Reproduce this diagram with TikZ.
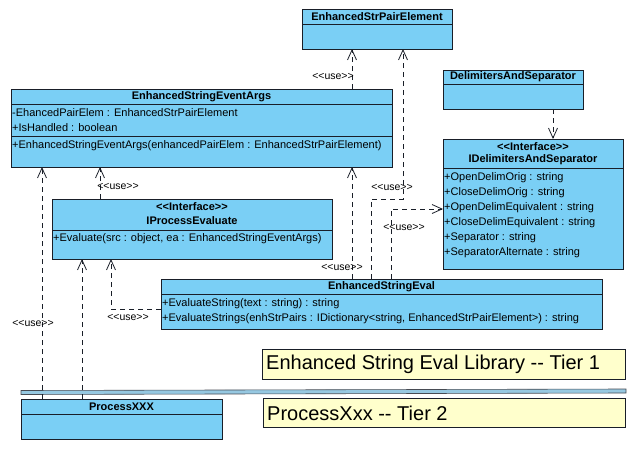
\documentclass[tikz,border=0pt]{standalone}
\usepackage{fontspec}
\setmainfont{Liberation Sans}[Ligatures=TeXOff]
\usetikzlibrary{arrows.meta,calc}
\definecolor{cls}{RGB}{122,207,245}
\definecolor{notefill}{RGB}{255,255,204}
\definecolor{edge}{RGB}{25,30,40}
\definecolor{barfill}{RGB}{150,200,225}
\begin{document}
\begin{tikzpicture}[x=1pt,y=-1pt,
  box/.style={draw=edge, fill=cls, line width=0.8pt, anchor=north west, inner sep=0pt, outer sep=0pt},
  notebox/.style={draw=edge, fill=notefill, line width=0.7pt, anchor=north west, inner sep=0pt, outer sep=0pt},
  sepline/.style={draw=edge, line width=0.8pt},
  ttl/.style={font=\fontsize{11}{12}\selectfont\bfseries, inner sep=0pt, anchor=center},
  mem/.style={font=\fontsize{11}{12}\selectfont, inner sep=0pt, anchor=west},
  uselbl/.style={font=\fontsize{10.5}{11}\selectfont, inner sep=0pt, anchor=center},
  bigtxt/.style={font=\fontsize{20}{22}\selectfont, inner sep=0pt, anchor=west},
  dep/.style={draw=edge, line width=0.8pt, dash pattern=on 5pt off 4pt, -{Straight Barb[length=10pt,width=9pt]}}
]
\useasboundingbox (0,0) rectangle (640,450);
\fill[white] (0,0) rectangle (640,450);

% ---- EnhancedStrPairElement
\node[box, minimum width=150pt, minimum height=40pt] (espe) at (302,9) {};
\draw[sepline] (302,24) -- (452,24);
\node[ttl] (espet) at (377,16.5) {EnhancedStrPairElement};

% ---- DelimitersAndSeparator
\node[box, minimum width=140pt, minimum height=39pt] (das) at (443,70) {};
\draw[sepline] (443,84) -- (583,84);
\node[ttl] (dast) at (513,77) {DelimitersAndSeparator};

% ---- EnhancedStringEventArgs
\node[box, minimum width=381pt, minimum height=78pt] (esea) at (11,89) {};
\draw[sepline] (11,104) -- (392,104);
\draw[sepline] (11,136) -- (392,136);
\node[ttl] (eseat) at (201.5,96.5) {EnhancedStringEventArgs};
\node[mem] (esea1) at (12,113) {-EhancedPairElem : EnhancedStrPairElement};
\node[mem] (esea2) at (12,128) {+IsHandled : boolean};
\node[mem] (esea3) at (12,146) {+EnhancedStringEventArgs(enhancedPairElem : EnhancedStrPairElement)};

% ---- IDelimitersAndSeparator
\node[box, minimum width=180pt, minimum height=130pt] (idel) at (443,139) {};
\draw[sepline] (443,168) -- (623,168);
\node[ttl] (idels) at (533,147) {<<Interface>>};
\node[ttl] (idelt) at (533,160) {IDelimitersAndSeparator};
\node[mem] (idel1) at (444,178) {+OpenDelimOrig : string};
\node[mem] (idel2) at (444,193) {+CloseDelimOrig : string};
\node[mem] (idel3) at (444,208) {+OpenDelimEquivalent : string};
\node[mem] (idel4) at (444,223) {+CloseDelimEquivalent : string};
\node[mem] (idel5) at (444,238) {+Separator : string};
\node[mem] (idel6) at (444,253) {+SeparatorAlternate : string};

% ---- IProcessEvaluate
\node[box, minimum width=280pt, minimum height=60pt] (ipe) at (52,199) {};
\draw[sepline] (52,230) -- (332,230);
\node[ttl] (ipes) at (192,207) {<<Interface>>};
\node[ttl] (ipet) at (192,221) {IProcessEvaluate};
\node[mem] (ipe1) at (53,239) {+Evaluate(src : object, ea : EnhancedStringEventArgs)};

% ---- EnhancedStringEval
\node[box, minimum width=441pt, minimum height=50pt] (ese) at (161,279) {};
\draw[sepline] (161,294) -- (602,294);
\node[ttl] (eset) at (381.5,286.5) {EnhancedStringEval};
\node[mem] (ese1) at (162,304) {+EvaluateString(text : string) : string};
\node[mem] (ese2) at (162,319) {+EvaluateStrings(enhStrPairs : IDictionary<string, EnhancedStrPairElement>) : string};

% ---- Tier notes
\node[notebox, minimum width=363pt, minimum height=30pt] (tier1) at (262,349) {};
\node[bigtxt] (tier1t) at (266,364.5) {Enhanced String Eval Library -- Tier 1};
\node[notebox, minimum width=362pt, minimum height=29pt] (tier2) at (263,398) {};
\node[bigtxt] (tier2t) at (267,413) {ProcessXxx -- Tier 2};

% ---- separator bar
\draw[draw=edge!80, fill=barfill, line width=0.6pt] (21,390.5) -- (626,389) -- (626,393) -- (21,394.5) -- cycle;

% ---- ProcessXXX
\node[box, minimum width=201pt, minimum height=40pt] (px) at (21,399) {};
\draw[sepline] (21,414) -- (222,414);
\node[ttl] (pxt) at (121.5,406.5) {ProcessXXX};

% ---- connector helper coordinates
\coordinate (k1) at (371,199);
\coordinate (k2) at (403,199);
\coordinate (k3) at (391,209);
\coordinate (k4) at (352,0);
\coordinate (k5) at (100,0);
\coordinate (k6) at (111,309);
\coordinate (k7) at (42,0);
\coordinate (k8) at (82,0);
\coordinate (k9) at (553,0);

% ---- connectors
\draw[dep] (esea.north -| k4) -- (espe.south -| k4);
\draw[dep] (ese.north -| k1) -- (k1) -- (k2) -- (espe.south -| k2);
\draw[dep] (ese.north -| k3) -- (k3) -- (idel.west |- k3);
\draw[dep] (ese.north -| k4) -- (esea.south -| k4);
\draw[dep] (ipe.north -| k5) -- (esea.south -| k5);
\draw[dep] (ese.west |- k6) -- (k6) -- (ipe.south -| k6);
\draw[dep] (px.north -| k7) -- (esea.south -| k7);
\draw[dep] (px.north -| k8) -- (ipe.south -| k8);
\draw[dep] (das.south -| k9) -- (idel.north -| k9);

% ---- labels
\node[uselbl] (l1) at (333,76) {<<use>>};
\node[uselbl] (l2) at (392,187) {<<use>>};
\node[uselbl] (l3) at (404,227) {<<use>>};
\node[uselbl] (l4) at (342,267) {<<use>>};
\node[uselbl] (l5) at (118,186) {<<use>>};
\node[uselbl] (l6) at (128,317) {<<use>>};
\node[uselbl] (l7) at (33,323) {<<use>>};
\end{tikzpicture}
\end{document}
